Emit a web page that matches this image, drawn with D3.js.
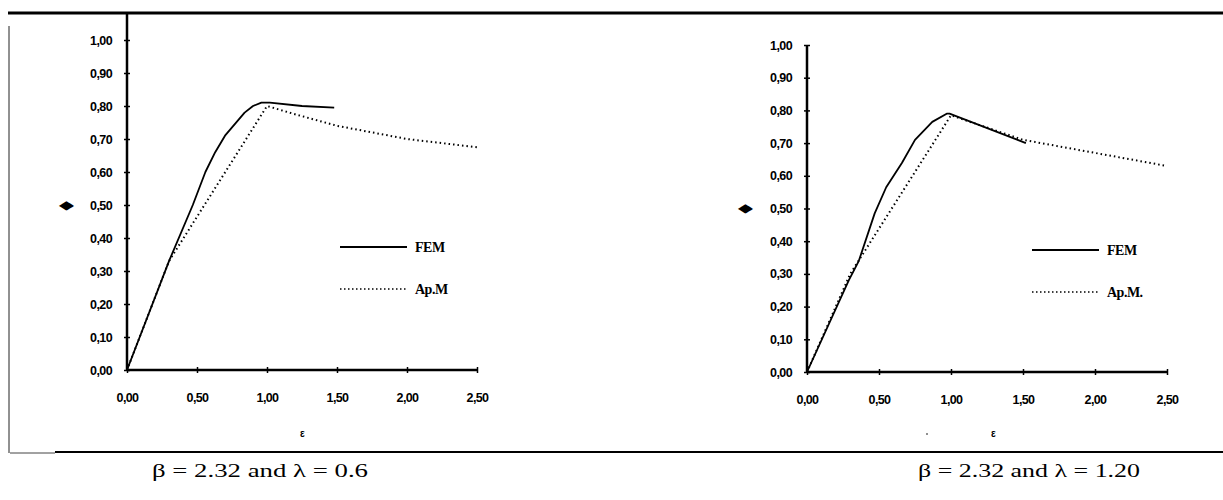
<!DOCTYPE html>
<html>
<head>
<meta charset="utf-8">
<script src="https://cdn.jsdelivr.net/npm/d3@7"></script>
<style>
  body { margin: 0; background: #fff; }
  svg { display: block; }
  .tick-label { font-family: "Liberation Sans", Arial, sans-serif; font-weight: bold; font-size: 12.5px; letter-spacing: -0.6px; }
  .legend { font-family: "Liberation Serif", serif; font-weight: bold; font-size: 14px; letter-spacing: -0.5px; }
  .caption { font-family: "Liberation Serif", "Times New Roman", serif; font-size: 18px; }
</style>
</head>
<body>
<div id="chart"></div>
<script>
// tick values
const xTicks = [0, 0.5, 1.0, 1.5, 2.0, 2.5];
const yTicks = [0, 0.1, 0.2, 0.3, 0.4, 0.5, 0.6, 0.7, 0.8, 0.9, 1.0];
const seriesNames = ['FEM', 'Ap.M'];

// left panel, beta = 2.32, lambda = 0.6
const femLeft = [[0, 0], [0.30, 0.33], [0.47, 0.50], [0.56, 0.60], [0.63, 0.66], [0.70, 0.71],
  [0.84, 0.78], [0.90, 0.80], [0.96, 0.81], [1.02, 0.81], [1.25, 0.80], [1.48, 0.795]];
const apmLeft = [[0, 0], [0.30, 0.33], [1.0, 0.80], [1.2, 0.775], [1.5, 0.74], [2.0, 0.70], [2.5, 0.675]];

// right panel, beta = 2.32, lambda = 1.20
const femRight = [[0, 0], [0.29, 0.28], [0.36, 0.34], [0.47, 0.485], [0.55, 0.565], [0.66, 0.64],
  [0.75, 0.71], [0.87, 0.765], [0.97, 0.79], [0.99, 0.79], [1.52, 0.70]];
const apmRight = [[0, 0], [0.30, 0.30], [1.0, 0.785], [1.2, 0.755], [1.5, 0.71], [2.0, 0.67], [2.5, 0.63]];

const captions = ['\u03b2 = 2.32 and \u03bb = 0.6', '\u03b2 = 2.32 and \u03bb = 1.20'];

const width = 1223, height = 500;
const svg = d3.select('#chart').append('svg')
  .attr('width', width)
  .attr('height', height);

// page frame lines
svg.append('line').attr('x1', 8).attr('x2', width).attr('y1', 13).attr('y2', 13)
  .attr('stroke', '#000').attr('stroke-width', 3);
svg.append('line').attr('x1', 9).attr('x2', 9).attr('y1', 26).attr('y2', 453)
  .attr('stroke', '#222').attr('stroke-width', 1);
svg.append('line').attr('x1', 10).attr('x2', 55).attr('y1', 453).attr('y2', 453)
  .attr('stroke', '#444').attr('stroke-width', 1);
svg.append('line').attr('x1', 55).attr('x2', width).attr('y1', 452).attr('y2', 452)
  .attr('stroke', '#000').attr('stroke-width', 2);

const panels = [
  { fem: femLeft, apm: apmLeft, x0: 127, x1: 477, y0: 370, y1: 40, axisTop: 13,
    legendX: 340, legendY: 247, caption: captions[0], capX: 152, capW: 216, phiX: 66, epsX: 302 },
  { fem: femRight, apm: apmRight, x0: 807, x1: 1167, y0: 372, y1: 45, axisTop: 45,
    legendX: 1032, legendY: 250, caption: captions[1], capX: 918, capW: 222, phiX: 745, epsX: 993 }
];

panels.forEach(p => {
  const x = d3.scaleLinear().domain([0, 2.5]).range([p.x0, p.x1]);
  const y = d3.scaleLinear().domain([0, 1]).range([p.y0, p.y1]);
  const g = svg.append('g');

  // y axis
  const yAxis = g.append('g').attr('transform', `translate(${p.x0},0)`)
    .call(d3.axisLeft(y).tickValues(yTicks).tickSize(3)
      .tickFormat(d => d3.format('.2f')(d).replace('.', ',')));
  yAxis.select('.domain').remove();
  yAxis.selectAll('.tick line').attr('x2', 3).attr('x1', -3).attr('stroke-width', 1.5);
  yAxis.selectAll('.tick text').attr('class', 'tick-label').attr('x', -15).attr('fill', '#000');
  g.append('line').attr('x1', p.x0).attr('x2', p.x0).attr('y1', p.axisTop).attr('y2', p.y0)
    .attr('stroke', '#000').attr('stroke-width', 2.5);

  // x axis
  const xAxis = g.append('g').attr('transform', `translate(0,${p.y0})`)
    .call(d3.axisBottom(x).tickValues(xTicks).tickSize(3)
      .tickFormat(d => d3.format('.2f')(d).replace('.', ',')));
  xAxis.select('.domain').remove();
  xAxis.selectAll('.tick line').attr('y1', -3).attr('y2', 3).attr('stroke-width', 1.5);
  xAxis.selectAll('.tick text').attr('class', 'tick-label').attr('y', 23).attr('fill', '#000');
  g.append('line').attr('x1', p.x0).attr('x2', p.x1).attr('y1', p.y0).attr('y2', p.y0)
    .attr('stroke', '#000').attr('stroke-width', 2.5);

  // axis titles
  g.append('text').attr('x', p.phiX).attr('y', y(0.5) + 5)
    .attr('text-anchor', 'middle').style('font-size', '15px')
    .attr('transform', `translate(${p.phiX},0) scale(1.3,0.8) translate(${-p.phiX},${y(0.5) * 0.25})`)
    .text('\u25c6');
  g.append('text').attr('class', 'tick-label').attr('x', p.epsX).attr('y', 437)
    .attr('text-anchor', 'middle').style('font-size', '10px').text('\u03b5');

  const line = d3.line().x(d => x(d[0])).y(d => y(d[1]));
  g.append('path').datum(p.apm).attr('d', line).attr('fill', 'none')
    .attr('stroke', '#000').attr('stroke-width', 2).attr('stroke-dasharray', '1.5,3');
  g.append('path').datum(p.fem).attr('d', line).attr('fill', 'none')
    .attr('stroke', '#000').attr('stroke-width', 1.8).attr('stroke-linejoin', 'round');

  // legend
  const lg = g.append('g');
  lg.append('line').attr('x1', p.legendX).attr('x2', p.legendX + 67)
    .attr('y1', p.legendY).attr('y2', p.legendY).attr('stroke', '#000').attr('stroke-width', 1.8);
  lg.append('text').attr('class', 'legend').attr('x', p.legendX + 75).attr('y', p.legendY + 5)
    .text(seriesNames[0]);
  lg.append('line').attr('x1', p.legendX).attr('x2', p.legendX + 67)
    .attr('y1', p.legendY + 42).attr('y2', p.legendY + 42).attr('stroke', '#000')
    .attr('stroke-width', 1.5).attr('stroke-dasharray', '1.5,2.5');
  lg.append('text').attr('class', 'legend').attr('x', p.legendX + 75).attr('y', p.legendY + 47)
    .text(p === panels[1] ? seriesNames[1] + '.' : seriesNames[1]);

  svg.append('text').attr('class', 'caption').attr('x', p.capX).attr('y', 477)
    .attr('textLength', p.capW).attr('lengthAdjust', 'spacingAndGlyphs').text(p.caption);
});

svg.append('circle').attr('cx', 927).attr('cy', 434).attr('r', 0.8).attr('fill', '#000');
</script>
</body>
</html>
